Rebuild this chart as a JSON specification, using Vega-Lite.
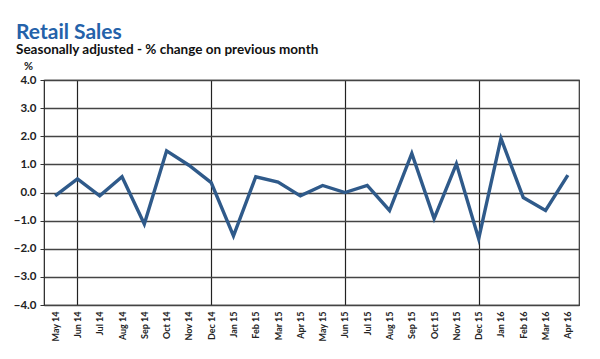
{
  "$schema": "https://vega.github.io/schema/vega-lite/v6.json",
  "width": 535,
  "height": 225,
  "autosize": {"type": "none"},
  "padding": {"left": 44, "top": 80, "right": 21, "bottom": 54},
  "background": "white",
  "title": {
    "text": "Retail Sales",
    "subtitle": "Seasonally adjusted  - % change on previous month",
    "anchor": "start",
    "frame": "group",
    "dx": -28,
    "offset": 4,
    "font": "Lato",
    "fontSize": 21,
    "fontWeight": "bold",
    "color": "#2462AA",
    "subtitleFont": "Lato",
    "subtitleFontSize": 13.5,
    "subtitleFontWeight": "bold",
    "subtitleColor": "#111111",
    "subtitlePadding": 0
  },
  "config": {
    "view": {"stroke": "#333333", "strokeWidth": 1.2},
    "font": "Lato"
  },
  "data": {
    "values": [
      {"month": "May 14", "value": -0.12},
      {"month": "Jun 14", "value": 0.48},
      {"month": "Jul 14", "value": -0.12},
      {"month": "Aug 14", "value": 0.56},
      {"month": "Sep 14", "value": -1.12},
      {"month": "Oct 14", "value": 1.48},
      {"month": "Nov 14", "value": 0.97},
      {"month": "Dec 14", "value": 0.35},
      {"month": "Jan 15", "value": -1.54},
      {"month": "Feb 15", "value": 0.56},
      {"month": "Mar 15", "value": 0.37},
      {"month": "Apr 15", "value": -0.12},
      {"month": "May 15", "value": 0.25},
      {"month": "Jun 15", "value": 0.0},
      {"month": "Jul 15", "value": 0.25},
      {"month": "Aug 15", "value": -0.64},
      {"month": "Sep 15", "value": 1.39},
      {"month": "Oct 15", "value": -0.93},
      {"month": "Nov 15", "value": 1.02},
      {"month": "Dec 15", "value": -1.64},
      {"month": "Jan 16", "value": 1.92},
      {"month": "Feb 16", "value": -0.18},
      {"month": "Mar 16", "value": -0.64},
      {"month": "Apr 16", "value": 0.62}
    ]
  },
  "mark": {"type": "line", "color": "#2F5A8A", "strokeWidth": 3.4, "strokeJoin": "miter"},
  "encoding": {
    "x": {
      "field": "month",
      "type": "ordinal",
      "sort": null,
      "scale": {"type": "point", "padding": 0.5},
      "axis": {
        "title": null,
        "labelAngle": -90,
        "labelFontSize": 9,
        "labelFontWeight": "bold",
        "labelColor": "#222222",
        "labelPadding": 6,
        "ticks": false,
        "domain": false,
        "grid": true,
        "gridColor": "#222222",
        "gridWidth": 1.2,
        "gridOpacity": {
          "condition": {"test": "indexof(['Jun 14','Dec 14','Jun 15','Dec 15'], datum.value) >= 0", "value": 1},
          "value": 0
        }
      }
    },
    "y": {
      "field": "value",
      "type": "quantitative",
      "scale": {"domain": [-4, 4], "nice": false},
      "axis": {
        "title": "%",
        "titleAngle": 0,
        "titleAlign": "center",
        "titleBaseline": "bottom",
        "titleX": -16,
        "titleY": -9,
        "titleFontSize": 11,
        "titleFontWeight": "bold",
        "titleColor": "#222222",
        "values": [-4, -3, -2, -1, 0, 1, 2, 3, 4],
        "format": ".1f",
        "labelFontSize": 11.5,
        "labelFontWeight": "bold",
        "labelColor": "#222222",
        "labelPadding": 4,
        "ticks": true,
        "tickSize": 4,
        "tickColor": "#333333",
        "domainColor": "#333333",
        "grid": true,
        "gridColor": "#444444",
        "gridWidth": 1.3
      }
    }
  }
}
